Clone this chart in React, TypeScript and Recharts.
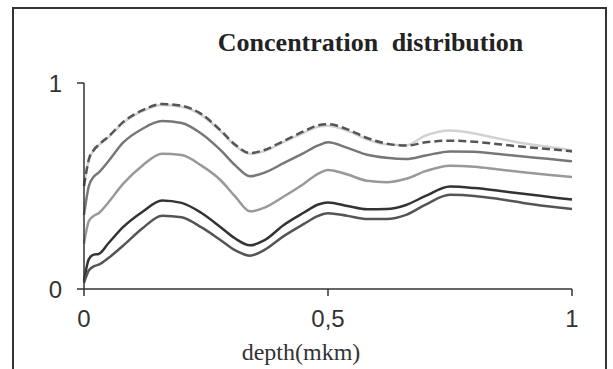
import React from 'react';
import { LineChart, Line, XAxis, YAxis } from 'recharts';

const depth = [0, 0.01, 0.02, 0.03, 0.05, 0.08, 0.12, 0.16, 0.2, 0.24, 0.28, 0.31, 0.34, 0.37, 0.41, 0.45, 0.48, 0.5, 0.54, 0.58, 0.62, 0.66, 0.7, 0.75, 0.8, 0.85, 0.9, 0.95, 1];

const seriesDashed = [0.5, 0.63, 0.675, 0.7, 0.74, 0.81, 0.868, 0.898, 0.89, 0.85, 0.77, 0.7, 0.66, 0.675, 0.72, 0.765, 0.795, 0.8, 0.775, 0.733, 0.706, 0.696, 0.712, 0.72, 0.715, 0.703, 0.69, 0.68, 0.668];
const seriesLight = [0.5, 0.628, 0.672, 0.697, 0.736, 0.806, 0.863, 0.893, 0.885, 0.845, 0.765, 0.695, 0.656, 0.67, 0.714, 0.758, 0.788, 0.793, 0.768, 0.727, 0.701, 0.698, 0.745, 0.77, 0.755, 0.73, 0.708, 0.69, 0.673];
const series2 = [0.36, 0.5, 0.545, 0.565, 0.62, 0.71, 0.778, 0.815, 0.806, 0.755, 0.674, 0.6, 0.547, 0.565, 0.612, 0.66, 0.697, 0.712, 0.685, 0.652, 0.637, 0.631, 0.648, 0.668, 0.666, 0.655, 0.643, 0.632, 0.62];
const series3 = [0.22, 0.33, 0.355, 0.368, 0.42, 0.51, 0.6, 0.657, 0.65, 0.6, 0.528, 0.448, 0.377, 0.395, 0.45, 0.51, 0.56, 0.578, 0.556, 0.525, 0.518, 0.535, 0.572, 0.598, 0.593, 0.58, 0.567, 0.555, 0.544];
const series4 = [0.04, 0.145, 0.167, 0.17, 0.222, 0.3, 0.375, 0.43, 0.418, 0.37, 0.3, 0.245, 0.212, 0.237, 0.312, 0.37, 0.41, 0.42, 0.403, 0.387, 0.388, 0.408, 0.452, 0.497, 0.49, 0.477, 0.462, 0.448, 0.434];
const series5 = [0.03, 0.09, 0.11, 0.118, 0.15, 0.21, 0.295, 0.356, 0.348, 0.3, 0.237, 0.187, 0.162, 0.19, 0.258, 0.315, 0.355, 0.368, 0.355, 0.34, 0.34, 0.36, 0.41, 0.457, 0.452, 0.437, 0.418, 0.402, 0.388];

const xTicks = [0, 0.5, 1];
const yTicks = [0, 1];

const data = depth.map((d, i) => ({
  depth: d,
  dashed: seriesDashed[i],
  light: seriesLight[i],
  s2: series2[i],
  s3: series3[i],
  s4: series4[i],
  s5: series5[i],
}));

const fmt = (v: number) => String(v).replace('.', ',');

export default function App() {
  return (
    <div style={{ position: 'absolute', left: 0, top: 0, width: 613, height: 369, overflow: 'hidden', background: '#fff' }}>
      <div style={{ position: 'absolute', left: 12, top: 7, width: 591, height: 420, border: '2px solid #333' }} />
      <div style={{ position: 'absolute', left: 0, width: 741, top: 28, textAlign: 'center', fontFamily: '"Liberation Serif", "Times New Roman", serif', fontWeight: 'bold', fontSize: 26, color: '#222', wordSpacing: 7, lineHeight: '30px' }}>
        Concentration distribution
      </div>
      <div style={{ position: 'absolute', left: 0, width: 602, top: 338, textAlign: 'center', fontFamily: '"Liberation Serif", "Times New Roman", serif', fontSize: 24, color: '#333', lineHeight: '28px' }}>
        depth(mkm)
      </div>
      <div style={{ position: 'absolute', left: 0, top: 0 }}>
        <LineChart width={613} height={369} data={data} margin={{ top: 83, right: 41, left: 54, bottom: 40 }}>
          <XAxis
            dataKey="depth"
            type="number"
            domain={[0, 1]}
            ticks={xTicks}
            tickFormatter={fmt}
            height={40}
            tickSize={7}
            tickMargin={14}
            stroke="#333"
            strokeWidth={1.5}
            tick={{ fill: '#333', fontSize: 24, fontFamily: '"Liberation Sans", Arial, sans-serif' }}
          />
          <YAxis
            type="number"
            domain={[0, 1]}
            ticks={yTicks}
            tickFormatter={fmt}
            width={30}
            tickSize={7}
            tickMargin={15}
            stroke="#333"
            strokeWidth={1.5}
            tick={{ fill: '#333', fontSize: 24, fontFamily: '"Liberation Sans", Arial, sans-serif' }}
          />
          <Line type="monotone" dataKey="light" stroke="#d2d2d2" strokeWidth={2.5} dot={false} isAnimationActive={false} />
          <Line type="monotone" dataKey="dashed" stroke="#555" strokeWidth={2.5} strokeDasharray="8 4" dot={false} isAnimationActive={false} />
          <Line type="monotone" dataKey="s2" stroke="#777" strokeWidth={2.5} dot={false} isAnimationActive={false} />
          <Line type="monotone" dataKey="s3" stroke="#999" strokeWidth={2.5} dot={false} isAnimationActive={false} />
          <Line type="monotone" dataKey="s4" stroke="#333" strokeWidth={2.5} dot={false} isAnimationActive={false} />
          <Line type="monotone" dataKey="s5" stroke="#555" strokeWidth={2.5} dot={false} isAnimationActive={false} />
        </LineChart>
      </div>
    </div>
  );
}
